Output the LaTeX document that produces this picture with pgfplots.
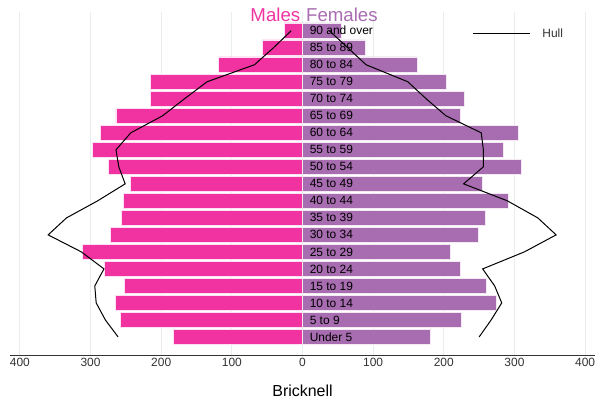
\documentclass[border=0pt]{standalone}
\usepackage{pgfplots}
\pgfplotsset{compat=1.18}
\usepackage{pgfplotstable}
\usepackage{fontspec}
\setmainfont{Liberation Sans}
\definecolor{male}{RGB}{240,51,160}
\definecolor{female}{RGB}{168,108,176}
\definecolor{gridc}{RGB}{232,238,240}
\definecolor{txt}{RGB}{51,51,51}

% idx: 0 = Under 5 ... 18 = 90 and over
\pgfplotstableread{
idx male female hullm hullf
0  182 181 261 250
1  258 225 279 267
2  265 275 292 282
3  252 261 294 272
4  280 224 281 255
5  312 209 313 314
6  272 249 360 359
7  256 259 334 333
8  253 292 290 290
9  243 254 251 228
10 275 310 260 256
11 297 285 264 256
12 286 305 243 253
13 264 224 198 203
14 215 229 167 175
15 215 204 135 149
16 119 162 68 90
17 57 89 41 64
18 26 55 16 38
}\popdata

\begin{document}
\begin{tikzpicture}
\path[use as bounding box] (-10bp,-48bp) rectangle (585bp,355bp);
\begin{axis}[
  at={(0,0)}, anchor=south west,
  scale only axis, width=585bp, height=343bp,
  xmin=-414, xmax=414, ymin=-1.06, ymax=19.1,
  axis line style={draw=none},
  axis x line*=bottom,
  axis y line=none,
  xtick={-400,-300,...,400},
  xticklabels={400,300,200,100,0,100,200,300,400},
  xtick style={draw=none},
  xmajorgrids, grid style={gridc, line width=0.8pt},
  ticklabel style={font=\fontsize{12}{14}\selectfont, text=txt},
  /pgf/number format/assume math mode=true,
  xlabel={Bricknell},
  xlabel style={font=\fontsize{16}{18}\selectfont, text=black, yshift=-11bp},
  legend style={draw=none, fill=none, at={(rel axis cs:0.785,0.937)}, anchor=west,
    font=\fontsize{12}{14}\selectfont, text=txt},
  legend cell align=left,
  legend image code/.code={\draw[black, line width=1pt] (0,0) -- (57bp,0);},
  clip=false,
]
\draw[txt, line width=0.9pt] (rel axis cs:0,0) -- (rel axis cs:1,0);
\addplot[xbar, bar width=15.5bp, bar shift=0pt, draw=white!85!male, line width=0.9pt, fill=male, forget plot]
  table[x expr=-\thisrow{male}, y=idx] {\popdata};
\addplot[xbar, bar width=15.5bp, bar shift=0pt, draw=white!85!female, line width=0.9pt, fill=female, forget plot]
  table[x=female, y=idx] {\popdata};
\addplot[black, line width=1pt, sharp plot, no marks]
  table[x expr=-\thisrow{hullm}, y=idx] {\popdata};
\addlegendentry{\hspace{10bp}Hull}
\addplot[black, line width=1pt, sharp plot, no marks, forget plot]
  table[x=hullf, y=idx] {\popdata};
\tikzset{catlab/.style={anchor=west, inner sep=0pt, font=\fontsize{12}{14}\selectfont, text=black}}
\node[catlab] at (axis cs:10,0) {Under 5};
\node[catlab] at (axis cs:10,1) {5 to 9};
\node[catlab] at (axis cs:10,2) {10 to 14};
\node[catlab] at (axis cs:10,3) {15 to 19};
\node[catlab] at (axis cs:10,4) {20 to 24};
\node[catlab] at (axis cs:10,5) {25 to 29};
\node[catlab] at (axis cs:10,6) {30 to 34};
\node[catlab] at (axis cs:10,7) {35 to 39};
\node[catlab] at (axis cs:10,8) {40 to 44};
\node[catlab] at (axis cs:10,9) {45 to 49};
\node[catlab] at (axis cs:10,10) {50 to 54};
\node[catlab] at (axis cs:10,11) {55 to 59};
\node[catlab] at (axis cs:10,12) {60 to 64};
\node[catlab] at (axis cs:10,13) {65 to 69};
\node[catlab] at (axis cs:10,14) {70 to 74};
\node[catlab] at (axis cs:10,15) {75 to 79};
\node[catlab] at (axis cs:10,16) {80 to 84};
\node[catlab] at (axis cs:10,17) {85 to 89};
\node[catlab] at (axis cs:10,18) {90 and over};
\node[anchor=base east, inner sep=0pt, font=\fontsize{18.7}{20}\selectfont, text=male] at (axis cs:-3,18.57) {Males};
\node[anchor=base west, inner sep=0pt, font=\fontsize{18.7}{20}\selectfont, text=female] at (axis cs:5,18.57) {Females};
\end{axis}
\end{tikzpicture}
\end{document}
